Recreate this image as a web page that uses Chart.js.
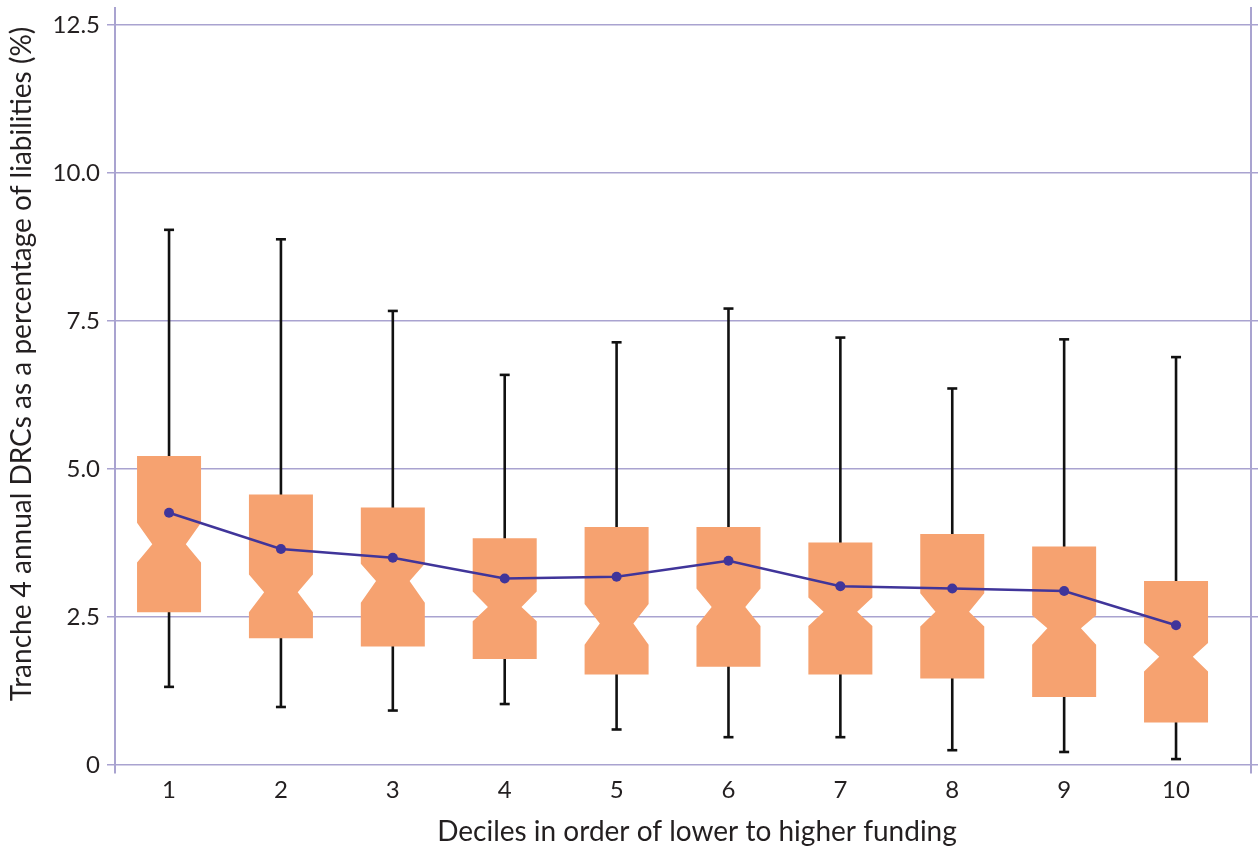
<!DOCTYPE html>
<html>
<head>
<meta charset="utf-8">
<title>Tranche 4 annual DRCs by funding decile</title>
<script src="https://cdn.jsdelivr.net/npm/chart.js@4.4.1/dist/chart.umd.min.js"></script>
<style>
  html, body { margin: 0; padding: 0; background: #ffffff; }
  #wrap { width: 1258px; height: 852px; }
</style>
</head>
<body>
<div id="wrap"><canvas id="drcChart" width="1258" height="852"></canvas></div>
<script>
// 資料：每個十分位的箱形圖數值（%）
const deciles     = [1, 2, 3, 4, 5, 6, 7, 8, 9, 10];
const whiskerLow  = [1.32, 0.98, 0.92, 1.03, 0.60, 0.47, 0.47, 0.25, 0.22, 0.10];
const q1          = [2.58, 2.14, 2.00, 1.79, 1.53, 1.66, 1.53, 1.46, 1.15, 0.72];
const notchLow    = [3.42, 2.58, 2.74, 2.43, 2.03, 2.35, 2.35, 2.34, 2.03, 1.58];
const median      = [3.73, 2.92, 3.11, 2.67, 2.39, 2.67, 2.59, 2.59, 2.31, 1.83];
const notchHigh   = [4.09, 3.22, 3.40, 2.93, 2.72, 2.98, 2.83, 2.90, 2.53, 2.06];
const q3          = [5.22, 4.57, 4.35, 3.83, 4.02, 4.02, 3.76, 3.90, 3.69, 3.11];
const whiskerHigh = [9.04, 8.88, 7.67, 6.59, 7.14, 7.71, 7.22, 6.36, 7.19, 6.89];
const meanValues  = [4.26, 3.65, 3.50, 3.15, 3.18, 3.45, 3.02, 2.98, 2.94, 2.36];
const yTicks      = [0, 2.5, 5, 7.5, 10, 12.5];

const yTitle = 'Tranche 4 annual DRCs as a percentage of liabilities (%)';
const xTitle = 'Deciles in order of lower to higher funding';

// 樣式
const boxColor = '#F6A270';
const meanColor = '#40359A';
const gridColor = '#A9A3D0';
const textColor = '#231F20';
const fontFamily = 'Lato, "Open Sans", sans-serif';
const boxWidth = 0.572;   // x 軸單位
const notchWidth = 0.30;  // x 軸單位

// 畫有缺口的箱形圖與鬚線（畫在平均線下方）
const notchedBoxPlugin = {
    id: 'notchedBoxes',
    beforeDatasetsDraw(chart) {
        const ctx = chart.ctx;
        const x = chart.scales.x;
        const y = chart.scales.y;
        ctx.save();

        deciles.forEach((d, i) => {
            const cx = x.getPixelForValue(d);
            const half = (x.getPixelForValue(d + boxWidth / 2) - x.getPixelForValue(d - boxWidth / 2)) / 2;
            const nHalf = (x.getPixelForValue(d + notchWidth / 2) - x.getPixelForValue(d - notchWidth / 2)) / 2;

            // 鬚線
            ctx.strokeStyle = '#111111';
            ctx.lineWidth = 2.6;
            ctx.beginPath();
            ctx.moveTo(cx, y.getPixelForValue(whiskerLow[i]));
            ctx.lineTo(cx, y.getPixelForValue(whiskerHigh[i]));
            ctx.stroke();
            [whiskerLow[i], whiskerHigh[i]].forEach(v => {
                const py = y.getPixelForValue(v);
                ctx.beginPath();
                ctx.moveTo(cx - 5, py);
                ctx.lineTo(cx + 5, py);
                ctx.stroke();
            });

            // 箱子
            const yQ3 = y.getPixelForValue(q3[i]);
            const yNH = y.getPixelForValue(notchHigh[i]);
            const yMed = y.getPixelForValue(median[i]);
            const yNL = y.getPixelForValue(notchLow[i]);
            const yQ1 = y.getPixelForValue(q1[i]);
            ctx.fillStyle = boxColor;
            ctx.beginPath();
            ctx.moveTo(cx - half, yQ3);
            ctx.lineTo(cx + half, yQ3);
            ctx.lineTo(cx + half, yNH);
            ctx.lineTo(cx + nHalf, yMed);
            ctx.lineTo(cx + half, yNL);
            ctx.lineTo(cx + half, yQ1);
            ctx.lineTo(cx - half, yQ1);
            ctx.lineTo(cx - half, yNL);
            ctx.lineTo(cx - nHalf, yMed);
            ctx.lineTo(cx - half, yNH);
            ctx.closePath();
            ctx.fill();
        });

        ctx.restore();
    }
};

// 軸標題
const axisTitlePlugin = {
    id: 'axisTitles',
    afterDraw(chart) {
        const ctx = chart.ctx;
        ctx.save();
        ctx.fillStyle = textColor;
        ctx.font = '28px ' + fontFamily;
        ctx.textAlign = 'center';
        ctx.textBaseline = 'middle';
        ctx.fillText(xTitle, 697, 832);
        ctx.translate(22, 364);
        ctx.rotate(-Math.PI / 2);
        ctx.fillText(yTitle, 0, 0);
        ctx.restore();
    }
};

const yRange = { min: -0.135, max: 12.787 };

new Chart(document.getElementById('drcChart'), {
    type: 'line',
    data: {
        datasets: [{
            label: 'Mean',
            data: deciles.map((d, i) => ({ x: d, y: meanValues[i] })),
            borderColor: meanColor,
            backgroundColor: meanColor,
            borderWidth: 2.5,
            pointRadius: 5,
            pointBorderWidth: 0,
            tension: 0
        }]
    },
    options: {
        responsive: false,
        animation: false,
        layout: { padding: { top: 8, left: 0, right: 0, bottom: 0 } },
        plugins: {
            legend: { display: false },
            tooltip: { enabled: false }
        },
        scales: {
            x: {
                type: 'linear',
                min: 0.517,
                max: 10.67,
                afterBuildTicks: scale => { scale.ticks = deciles.map(v => ({ value: v })); },
                afterFit: scale => { scale.height = 79; },
                grid: { display: false, drawTicks: false },
                border: { display: false },
                ticks: {
                    padding: 3,
                    color: textColor,
                    font: { family: fontFamily, size: 24 },
                    callback: v => String(v)
                }
            },
            y: {
                position: 'left',
                min: yRange.min,
                max: yRange.max,
                afterBuildTicks: scale => { scale.ticks = yTicks.map(v => ({ value: v })); },
                afterFit: scale => { scale.width = 115; },
                grid: { color: gridColor, lineWidth: 1.5, tickLength: 8 },
                border: { color: gridColor, width: 2 },
                ticks: {
                    padding: 7,
                    color: textColor,
                    // 行高設小，避免 Chart.js 額外加上方留白
                    font: { family: fontFamily, size: 24, lineHeight: 0.05 },
                    callback: v => (v === 0 ? '0' : v.toFixed(1))
                }
            },
            y2: {
                position: 'right',
                min: yRange.min,
                max: yRange.max,
                afterBuildTicks: scale => { scale.ticks = yTicks.map(v => ({ value: v })); },
                afterFit: scale => { scale.width = 7; },
                grid: { color: gridColor, lineWidth: 1.5, tickLength: 7, drawOnChartArea: false },
                border: { color: gridColor, width: 2 },
                ticks: { display: false, padding: 0 }
            }
        }
    },
    plugins: [notchedBoxPlugin, axisTitlePlugin]
});
</script>
</body>
</html>
